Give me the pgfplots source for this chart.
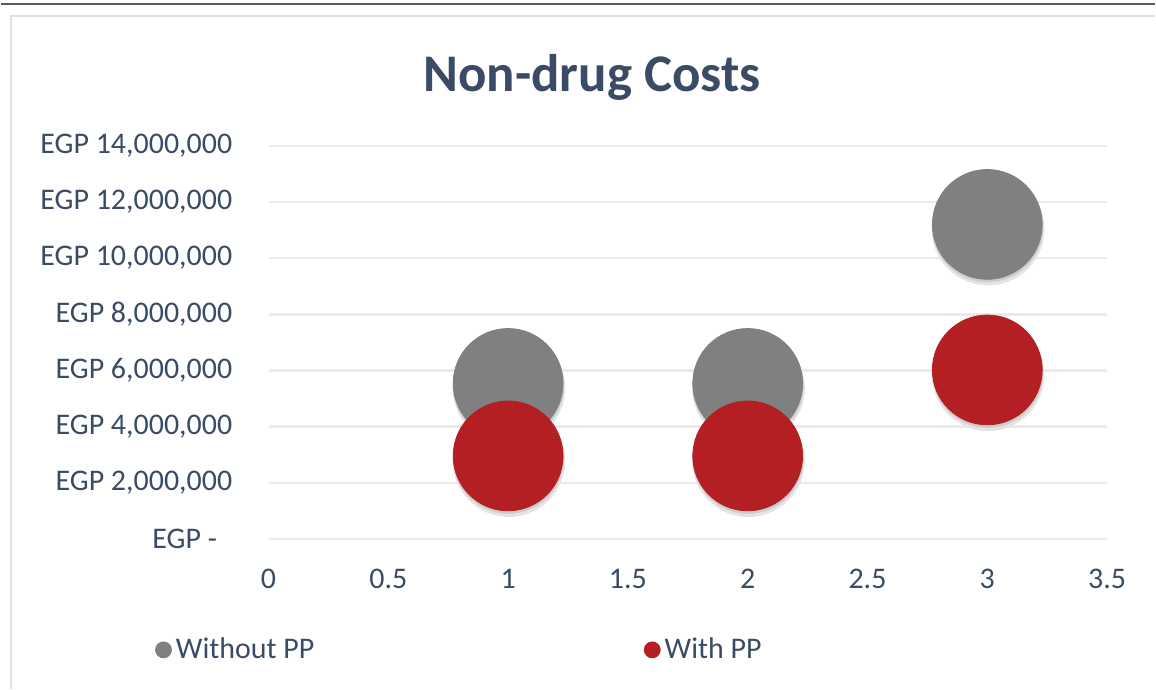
\documentclass[border=0pt]{standalone}
\usepackage{fontspec}
\setmainfont{Carlito}
\usepackage{pgfplots}
\pgfplotsset{compat=1.18}
\definecolor{txtcol}{RGB}{59,75,101}
\definecolor{bubgray}{RGB}{128,128,128}
\definecolor{bubred}{RGB}{180,31,36}
\definecolor{gridcol}{RGB}{234,234,234}
\definecolor{shadow1}{RGB}{228,228,228}
\definecolor{shadow2}{RGB}{205,205,205}
\begin{document}
\begin{tikzpicture}
\path (0,0) rectangle (578pt,345pt);
\draw[color=gray!25, line width=0.8pt] (5pt,0) -- (5pt,337pt) -- (578pt,337pt);
\draw[color=black!65, line width=1pt] (0,343pt) -- (578pt,343pt);
\begin{axis}[
  at={(134pt,75pt)}, anchor=south west,
  scale only axis, width=420pt, height=197pt,
  xmin=0, xmax=3.5, ymin=0, ymax=14000000,
  clip=false,
  axis line style={draw=none},
  tick style={draw=none},
  ymajorgrids, major grid style={color=gridcol, line width=1.2pt},
  xtick={0,0.5,1,1.5,2,2.5,3,3.5},
  xticklabels={0,0.5,1,1.5,2,2.5,3,3.5},
  ytick={0,2000000,4000000,6000000,8000000,10000000,12000000,14000000},
  yticklabels={EGP -\phantom{0},EGP 2{,}000{,}000,EGP 4{,}000{,}000,EGP 6{,}000{,}000,EGP 8{,}000{,}000,EGP 10{,}000{,}000,EGP 12{,}000{,}000,EGP 14{,}000{,}000},
  scaled y ticks=false,
  ticklabel style={font=\fontsize{15}{18}\selectfont, text=txtcol},
  yticklabel style={anchor=east, inner sep=0pt, xshift=-18pt},
  xticklabel style={anchor=center, inner sep=0pt, yshift=-20pt},
  legend style={at={(0,0)}, anchor=west, xshift=-60pt, yshift=-55.5pt, draw=none, fill=none,
    font=\fontsize{15}{18}\selectfont, text=txtcol, legend columns=2,
    /tikz/every even column/.append style={column sep=163pt}},
  legend image code/.code={\fill (0.2cm,0cm) circle (4pt);},
  legend cell align=left,
]
% soft shadows
\addplot[color=shadow1, only marks, mark=*, mark size=28pt, mark options={draw=none, fill=shadow1, xshift=0.4pt, yshift=-2.4pt}, forget plot]
  coordinates {(1,5540000) (2,5540000) (3,11200000)};
\addplot[color=shadow2, only marks, mark=*, mark size=27.6pt, mark options={draw=none, fill=shadow2, xshift=0.2pt, yshift=-1.2pt}, forget plot]
  coordinates {(1,5540000) (2,5540000) (3,11200000)};
\addplot[color=bubgray, only marks, mark=*, mark size=27.5pt, mark options={draw=none, fill=bubgray}]
  coordinates {(1,5540000) (2,5540000) (3,11200000)};
\addlegendentry{Without PP}
\addplot[color=shadow1, only marks, mark=*, mark size=28pt, mark options={draw=none, fill=shadow1, xshift=0.4pt, yshift=-2.4pt}, forget plot]
  coordinates {(1,2960000) (2,2960000) (3,6020000)};
\addplot[color=shadow2, only marks, mark=*, mark size=27.6pt, mark options={draw=none, fill=shadow2, xshift=0.2pt, yshift=-1.2pt}, forget plot]
  coordinates {(1,2960000) (2,2960000) (3,6020000)};
\addplot[color=bubred, only marks, mark=*, mark size=27.5pt, mark options={draw=none, fill=bubred}]
  coordinates {(1,2960000) (2,2960000) (3,6020000)};
\addlegendentry{With PP}
\end{axis}
\node[font=\bfseries\fontsize{26.5}{30}\selectfont, text=txtcol] at (296pt,306pt) {Non-drug Costs};
\end{tikzpicture}
\end{document}
